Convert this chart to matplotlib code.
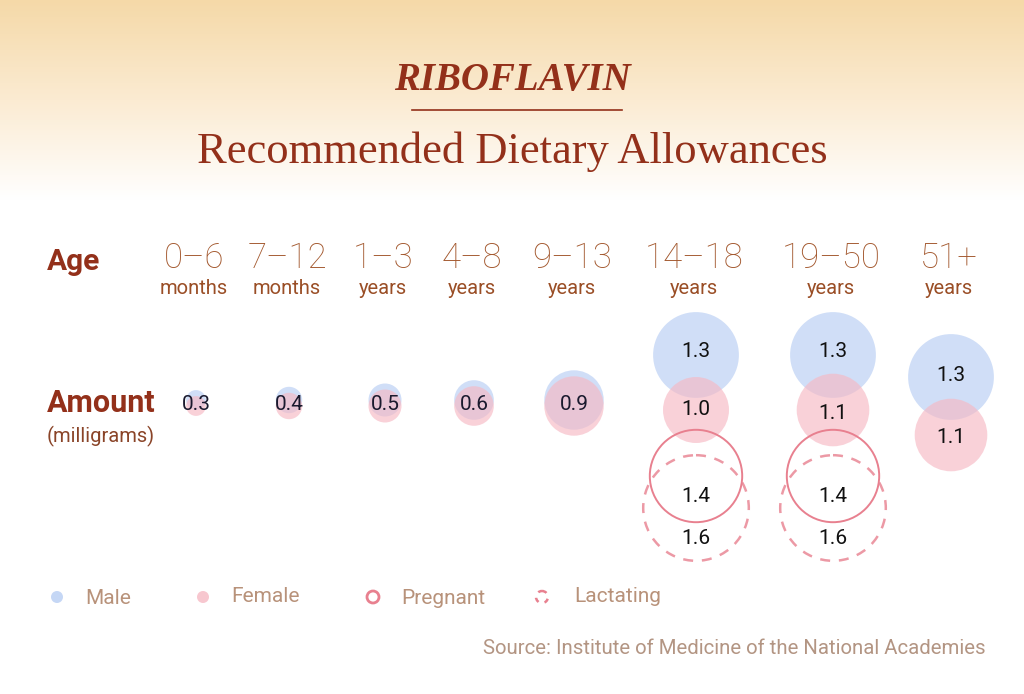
import numpy as np
import matplotlib
matplotlib.use("Agg")
import matplotlib.pyplot as plt
from matplotlib.patches import Circle
from matplotlib.colors import LinearSegmentedColormap

# data
ages = ["0\u20136", "7\u201312", "1\u20133", "4\u20138", "9\u201313", "14\u201318", "19\u201350", "51+"]
units = ["months", "months", "years", "years", "years", "years", "years", "years"]
male = [0.3, 0.4, 0.5, 0.6, 0.9, 1.3, 1.3, 1.3]
female = [0.3, 0.4, 0.5, 0.6, 0.9, 1.0, 1.1, 1.1]
pregnant = [None, None, None, None, None, 1.4, 1.4, None]
lactating = [None, None, None, None, None, 1.6, 1.6, None]

# layout (pixel space)
col_x = [194, 287, 383, 472, 572, 694, 831, 949]
R = 33.0  # px radius per mg
BROWN = "#93301a"
AGE_C = "#a3582e"
TAN = "#b8927a"
BLUE = "#b7cdf3"
PINK = "#f6b9c4"
RING = "#e8808f"

W, H = 1024, 694
fig = plt.figure(figsize=(W / 100, H / 100), dpi=100)
ax = fig.add_axes([0, 0, 1, 1])
ax.set_xlim(0, W)
ax.set_ylim(H, 0)
ax.set_aspect("equal")
ax.axis("off")

# background gradient
cmap = LinearSegmentedColormap.from_list("bg", ["#f5d9a8", "#fbebd2", "#ffffff"])
grad = np.linspace(0, 1, 256).reshape(-1, 1)
ax.imshow(grad, cmap=cmap, extent=[0, W, 200, 0], aspect="auto", zorder=0)

# titles
ax.text(W / 2, 80, "RIBOFLAVIN", family="Liberation Serif", weight="bold",
        style="italic", fontsize=28, color=BROWN, ha="center", va="center")
ax.plot([412, 622], [110, 110], color=BROWN, lw=1.2)
ax.text(W / 2, 152, "Recommended Dietary Allowances", family="Liberation Serif",
        fontsize=32, color=BROWN, ha="center", va="center")

# row labels
ax.text(47, 262, "Age", family="Roboto", weight="bold", fontsize=21.5,
        color=BROWN, ha="left", va="center")
ax.text(47, 403, "Amount", family="Roboto", weight="bold", fontsize=22,
        color=BROWN, ha="left", va="center")
ax.text(47, 436, "(milligrams)", family="Roboto", fontsize=14.5,
        color="#8a4428", ha="left", va="center")

for x, a, u in zip(col_x, ages, units):
    ax.text(x, 258, a, family="Roboto", weight="light", fontsize=25,
            color=AGE_C, ha="center", va="center")
    ax.text(x, 288, u, family="Roboto", fontsize=14.5,
            color="#9a4e26", ha="center", va="center")

# bubbles
for i, x in enumerate(col_x):
    if pregnant[i] is not None:
        ym, yf, yp, yl = 355, 410, 476, 508
        tm, tf = 351, 409 if female[i] == 1.0 else 413
    elif i == 7:
        ym, yf = 377, 435
        tm, tf = 375, 437
    else:
        ym, yf = 400, 406
        tm = tf = 404
    ax.add_patch(Circle((x + 2, ym), male[i] * R, color=BLUE, alpha=0.65, lw=0, zorder=2))
    ax.add_patch(Circle((x + 2, yf), female[i] * R, color=PINK, alpha=0.65, lw=0, zorder=2))
    if tm == tf:
        ax.text(x + 2, tm, f"{male[i]:.1f}", family="Roboto", fontsize=15,
                color="#1a1a2e", ha="center", va="center", zorder=5)
    else:
        ax.text(x + 2, tm, f"{male[i]:.1f}", family="Roboto", fontsize=15,
                color="#111111", ha="center", va="center", zorder=5)
        ax.text(x + 2, tf, f"{female[i]:.1f}", family="Roboto", fontsize=15,
                color="#111111", ha="center", va="center", zorder=5)
    if pregnant[i] is not None:
        ax.add_patch(Circle((x + 2, yp), pregnant[i] * R, fill=False, ec=RING,
                            lw=1.4, zorder=3))
        ax.add_patch(Circle((x + 2, yl), lactating[i] * R, fill=False, ec=RING,
                            lw=1.8, ls=(0, (4, 3.5)), alpha=0.8, zorder=3))
        ax.text(x + 2, 496, f"{pregnant[i]:.1f}", family="Roboto", fontsize=15,
                color="#111111", ha="center", va="center", zorder=5)
        ax.text(x + 2, 538, f"{lactating[i]:.1f}", family="Roboto", fontsize=15,
                color="#111111", ha="center", va="center", zorder=5)

# legend
ax.add_patch(Circle((57, 597), 6, color=BLUE, alpha=0.8, lw=0))
ax.add_patch(Circle((203, 597), 6, color=PINK, alpha=0.8, lw=0))
ax.add_patch(Circle((373, 597), 6, fill=False, ec=RING, lw=2))
ax.add_patch(Circle((542, 597), 6, fill=False, ec=RING, lw=1.8, ls=(0, (2, 2.5))))
for lx, ly, lab in [(85, 599, "Male"), (231, 597, "Female"),
                    (401, 599, "Pregnant"), (574, 597, "Lactating")]:
    ax.text(lx, ly, lab, family="Roboto", fontsize=15, color=TAN,
            ha="left", va="center")

ax.text(986, 648, "Source: Institute of Medicine of the National Academies",
        family="Roboto", fontsize=14.7, color="#b39583", ha="right", va="center")

fig.savefig("out.png", dpi=100)
